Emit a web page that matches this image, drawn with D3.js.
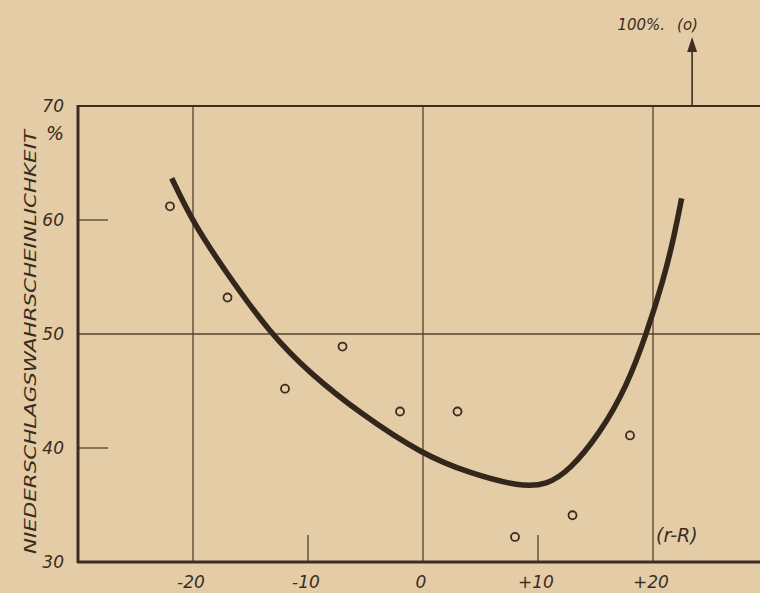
<!DOCTYPE html>
<html>
<head>
<meta charset="utf-8">
<script src="https://cdn.jsdelivr.net/npm/d3@7"></script>
<style>
  body { margin: 0; background: #e4cca6; }
  svg { display: block; }
  text { font-family: "DejaVu Sans", sans-serif; font-style: italic; fill: #3b2d20; }
</style>
</head>
<body>
<div id="app"></div>
<script>
// observed points (r-R, %)
let pointX = [-22, -17, -12, -7, -2, 3, 8, 13, 18]
let pointY = [61.2, 53.2, 45.2, 48.9, 43.2, 43.2, 32.2, 34.1, 41.1]

// off-scale point, shown by the arrow
let outlierX = 23.4
let outlierLabel = "100%."
let outlierMark = "(o)"

// fitted curve
let curveX = [-21.85, -19.97, -17.07, -13.3, -9.83, -5.48, 0, 4.09, 8.43, 10.76, 12.78, 15.39, 17.71, 19.45, 20.9, 21.77, 22.49]
let curveY = [63.66, 59.71, 55.32, 50.06, 46.55, 43.04, 39.4, 37.78, 36.6, 36.75, 38.07, 41.29, 45.38, 50.06, 54.74, 58.25, 61.9]

let yTicks = [30, 40, 50, 60, 70]
let xTickLabels = [[-20, "-20"], [-10, "-10"], [0, "0"], [10, "+10"], [20, "+20"]]
let yTitle = "NIEDERSCHLAGSWAHRSCHEINLICHKEIT"
let xTitle = "(r-R)"

let width = 760
let height = 593
let ink = "#3b2d20"

let x = d3.scaleLinear().domain([-30, 30]).range([78, 768])
let y = d3.scaleLinear().domain([30, 70]).range([562, 106])

let svg = d3.select("#app").append("svg")
    .attr("width", width)
    .attr("height", height)

svg.append("rect").attr("width", width).attr("height", height).attr("fill", "#e4cca6")

// grid lines
let grid = svg.append("g").attr("stroke", "#54412e").attr("stroke-width", 1.3)
grid.selectAll("line.v")
    .data([-20, 0, 20])
    .enter().append("line")
    .attr("x1", d => x(d)).attr("x2", d => x(d))
    .attr("y1", y(70)).attr("y2", y(30))
grid.append("line")
    .attr("x1", x(-30)).attr("x2", width)
    .attr("y1", y(50)).attr("y2", y(50))

// short ticks
grid.selectAll("line.ty")
    .data([40, 60])
    .enter().append("line")
    .attr("x1", x(-30)).attr("x2", x(-30) + 30)
    .attr("y1", d => y(d)).attr("y2", d => y(d))
grid.selectAll("line.tx")
    .data([-10, 10])
    .enter().append("line")
    .attr("x1", d => x(d)).attr("x2", d => x(d))
    .attr("y1", y(30)).attr("y2", y(30) - 27)

// frame
svg.append("line").attr("stroke", ink).attr("stroke-width", 2)
    .attr("x1", x(-30)).attr("x2", width).attr("y1", y(70)).attr("y2", y(70))
svg.append("line").attr("stroke", ink).attr("stroke-width", 3)
    .attr("x1", x(-30)).attr("x2", x(-30)).attr("y1", y(70) - 1).attr("y2", y(30) + 1)
svg.append("line").attr("stroke", ink).attr("stroke-width", 3)
    .attr("x1", x(-30) - 1).attr("x2", width).attr("y1", y(30)).attr("y2", y(30))

// y tick labels
svg.selectAll("text.yl")
    .data(yTicks)
    .enter().append("text")
    .attr("x", 64)
    .attr("y", d => y(d) + 6)
    .attr("text-anchor", "end")
    .attr("font-size", 17)
    .text(d => d)
svg.append("text")
    .attr("x", 64).attr("y", y(70) + 34)
    .attr("text-anchor", "end").attr("font-size", 19)
    .text("%")

// x tick labels
svg.selectAll("text.xl")
    .data(xTickLabels)
    .enter().append("text")
    .attr("x", d => x(d[0]) - 2)
    .attr("y", 588)
    .attr("text-anchor", "middle")
    .attr("font-size", 17)
    .text(d => d[1])

// axis titles
svg.append("text")
    .attr("transform", "translate(36," + 342 + ") rotate(-90)")
    .attr("text-anchor", "middle")
    .attr("font-size", 16)
    .attr("textLength", 424)
    .attr("lengthAdjust", "spacingAndGlyphs")
    .text(yTitle)
svg.append("text")
    .attr("x", 656).attr("y", 542)
    .attr("font-size", 19)
    .text(xTitle)

// curve
let line = d3.line()
    .x(d => x(d[0]))
    .y(d => y(d[1]))
    .curve(d3.curveBasis)
svg.append("path")
    .datum(d3.zip(curveX, curveY))
    .attr("d", line)
    .attr("fill", "none")
    .attr("stroke", "#33261a")
    .attr("stroke-width", 5.5)

// observed points
svg.selectAll("circle.pt")
    .data(d3.zip(pointX, pointY))
    .enter().append("circle")
    .attr("cx", d => x(d[0]))
    .attr("cy", d => y(d[1]))
    .attr("r", 4)
    .attr("fill", "none")
    .attr("stroke", ink)
    .attr("stroke-width", 1.8)

// arrow for the off-scale point
let ax = x(outlierX)
svg.append("line").attr("stroke", ink).attr("stroke-width", 1.6)
    .attr("x1", ax).attr("x2", ax).attr("y1", y(70)).attr("y2", 48)
svg.append("path")
    .attr("d", "M" + ax + ",37 L" + (ax - 5) + ",52 L" + (ax + 5) + ",52 Z")
    .attr("fill", ink)
svg.append("text")
    .attr("x", ax - 27).attr("y", 30)
    .attr("text-anchor", "end")
    .attr("font-size", 15)
    .text(outlierLabel)
svg.append("text")
    .attr("x", ax - 15).attr("y", 30)
    .attr("font-size", 15)
    .text(outlierMark)
</script>
</body>
</html>
